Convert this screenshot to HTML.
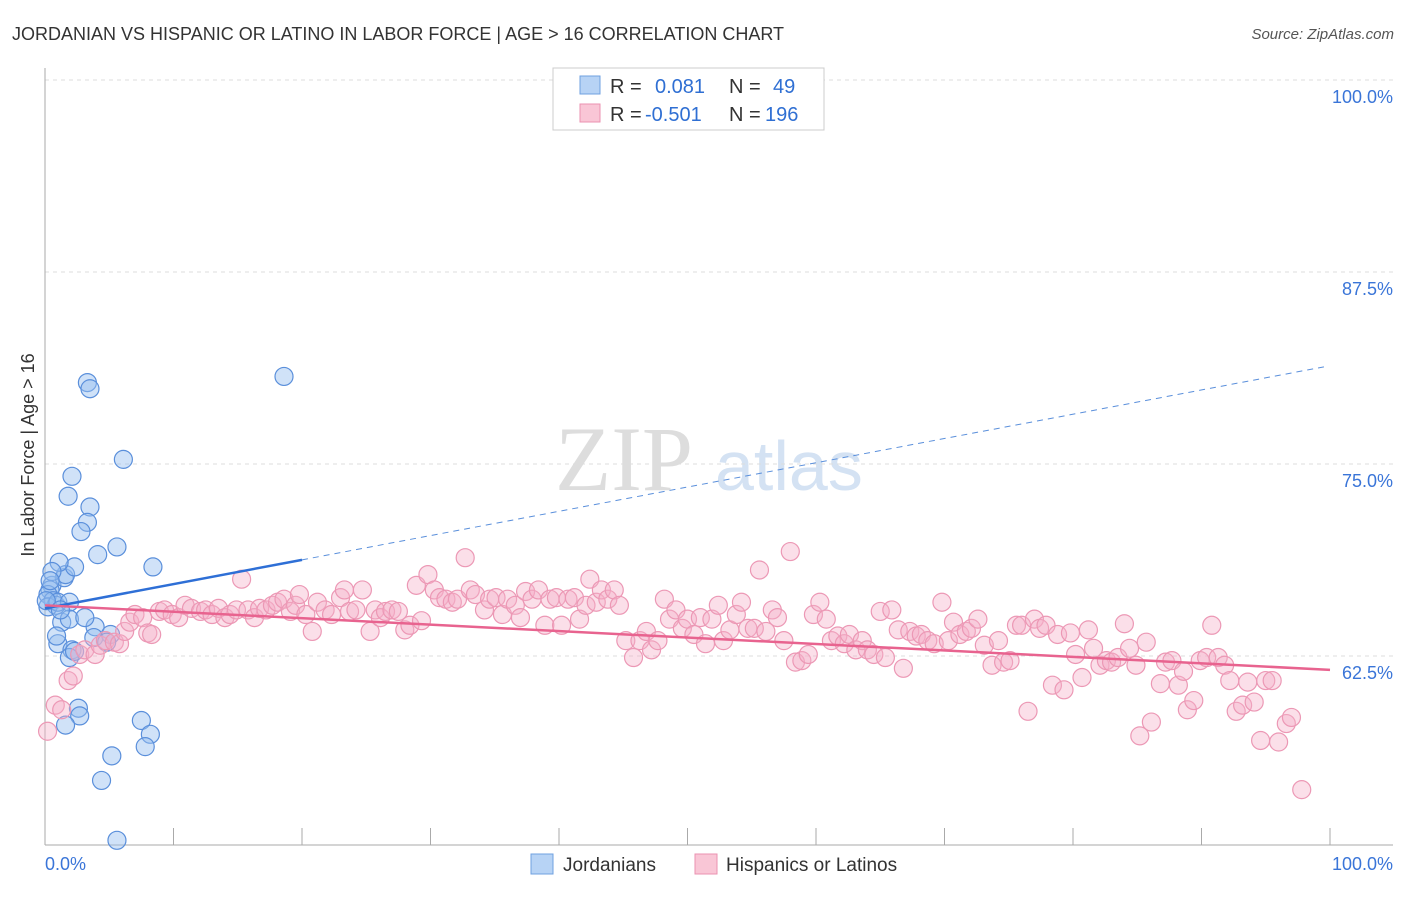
<!DOCTYPE html>
<html><head><meta charset="utf-8"><style>
body{margin:0;background:#fff;font-family:"Liberation Sans",sans-serif;}
</style></head><body>
<svg width="1406" height="892" xmlns="http://www.w3.org/2000/svg" font-family="Liberation Sans, sans-serif">
<text x="12" y="40" font-size="18" fill="#333">JORDANIAN VS HISPANIC OR LATINO IN LABOR FORCE | AGE &gt; 16 CORRELATION CHART</text>
<text x="1394" y="39" font-size="15" fill="#555" text-anchor="end" font-style="italic">Source: ZipAtlas.com</text>
<g>
<text x="555" y="490" font-size="92" fill="#ddd" font-family="Liberation Serif, serif">ZIP</text>
<text x="715" y="490" font-size="70" fill="#d4e2f3">atlas</text>
</g>
<g id="grid"></g>
<g id="axes"></g>
<g id="pts"></g>
<g id="trend"></g>
<g>
<rect x="553" y="68" width="271" height="62" fill="#fff" stroke="#ccc"/>
<rect x="580" y="76" width="20" height="18" fill="#b7d3f5" stroke="#6fa0e0"/>
<text x="610" y="93" font-size="20" fill="#333">R = </text><text x="655" y="93" font-size="20" fill="#2f6fd3">0.081</text>
<text x="729" y="93" font-size="20" fill="#333">N = </text><text x="773" y="93" font-size="20" fill="#2f6fd3">49</text>
<rect x="580" y="104" width="20" height="18" fill="#f9c6d6" stroke="#eb92b0"/>
<text x="610" y="121" font-size="20" fill="#333">R = </text><text x="645" y="121" font-size="20" fill="#2f6fd3">-0.501</text>
<text x="729" y="121" font-size="20" fill="#333">N = </text><text x="765" y="121" font-size="20" fill="#2f6fd3">196</text>
</g>
<g>
<rect x="531" y="854" width="22" height="20" fill="#b7d3f5" stroke="#6fa0e0"/>
<text x="563" y="871" font-size="19" fill="#333">Jordanians</text>
<rect x="695" y="854" width="22" height="20" fill="#f9c6d6" stroke="#eb92b0"/>
<text x="726" y="871" font-size="19" fill="#333">Hispanics or Latinos</text>
</g>
<text x="45" y="870" font-size="18" fill="#3a75d8">0.0%</text>
<text x="1393" y="870" font-size="18" fill="#3a75d8" text-anchor="end">100.0%</text>
<text transform="translate(34,455) rotate(-90)" font-size="18" fill="#333" text-anchor="middle">In Labor Force | Age &gt; 16</text>
</svg>
<script>
const blueX=[.54,.39,.23,.62,.86,.23,1.0,1.9,1.5,1.6,2.3,1.1,.54,3.3,3.5,18.6,6.1,2.1,1.8,3.5,3.3,2.8,4.1,5.6,8.4,1.3,1.9,1.0,.9,2.1,1.9,2.3,3.9,3.8,5.1,4.8,2.6,2.7,1.6,7.5,8.2,7.8,5.2,4.4,5.6,3.1,.4,.1,1.2];
const blueY=[67.1,66.8,66.5,66.1,65.8,65.7,66.0,66.0,67.6,67.8,68.3,68.6,68.0,80.3,79.9,80.7,75.3,74.2,72.9,72.2,71.2,70.6,69.1,69.6,68.3,64.7,64.9,63.3,63.8,62.9,62.4,62.8,64.4,63.7,63.9,63.4,59.1,58.6,58.0,58.3,57.4,56.6,56.0,54.4,50.5,65.0,67.4,66.1,65.5];
const pinkX=[.2,.8,1.3,1.8,2.2,2.7,3.1,3.9,4.3,4.7,5.4,5.8,6.2,6.6,7.0,7.6,8.0,8.3,8.9,9.3,9.9,10.4,10.9,11.4,12.1,12.5,13.0,13.5,14.0,14.4,14.9,15.3,15.8,16.3,16.7,17.2,17.7,18.1,18.6,19.1,19.5,19.8,20.3,20.8,21.2,21.8,22.3,23.0,23.3,23.7,24.2,24.7,25.3,25.7,26.1,26.5,27.0,27.5,28.0,28.4,28.9,29.3,29.8,30.3,30.7,31.2,31.7,32.1,32.7,33.1,33.5,34.2,34.6,35.1,35.6,36.0,36.6,37.0,37.4,37.9,38.4,38.9,39.3,39.8,40.2,40.7,41.2,41.6,42.1,42.4,42.9,43.3,43.8,44.3,44.7,45.2,45.8,46.3,46.8,47.2,47.7,48.2,48.6,49.1,49.6,50.0,50.5,51.0,51.4,51.9,52.4,52.8,53.3,53.8,54.2,54.7,55.2,55.6,56.1,56.6,57.0,57.5,58.0,58.4,58.9,59.4,59.8,60.3,60.8,61.2,61.7,62.2,62.6,63.1,63.6,64.0,64.5,65.0,65.4,65.9,66.4,66.8,67.3,67.8,68.2,68.7,69.2,69.8,70.3,70.7,71.2,71.7,72.1,72.6,73.1,73.7,74.2,74.6,75.1,75.6,76.0,76.5,77.0,77.4,77.9,78.4,78.8,79.3,79.8,80.2,80.7,81.2,81.6,82.1,82.6,83.0,83.5,84.0,84.4,84.9,85.2,85.7,86.1,86.8,87.2,87.7,88.2,88.6,88.9,89.4,89.9,90.4,90.8,91.3,91.8,92.2,92.7,93.2,93.6,94.1,94.6,95.0,95.5,96.0,96.6,97.0,97.8];
const pinkY=[57.6,59.3,59.0,60.9,61.2,62.6,62.9,62.6,63.2,63.5,63.4,63.3,64.1,64.7,65.2,65.0,64.0,63.9,65.4,65.5,65.2,65.0,65.8,65.6,65.4,65.5,65.2,65.6,65.0,65.2,65.5,67.5,65.5,65.0,65.6,65.5,65.8,66.0,66.2,65.4,65.8,66.5,65.2,64.1,66.0,65.5,65.2,66.3,66.8,65.4,65.5,66.8,64.1,65.5,65.0,65.4,65.5,65.4,64.2,64.5,67.1,64.8,67.8,66.8,66.3,66.2,66.0,66.2,68.9,66.8,66.5,65.5,66.2,66.3,65.2,66.2,65.8,65.0,66.7,66.2,66.8,64.5,66.2,66.3,64.5,66.2,66.3,64.9,65.8,67.5,66.0,66.8,66.2,66.8,65.8,63.5,62.4,63.5,64.1,62.9,63.5,66.2,64.9,65.5,64.3,64.9,63.9,65.0,63.3,64.9,65.8,63.5,64.2,65.2,66.0,64.3,64.3,68.1,64.1,65.5,65.0,63.5,69.3,62.1,62.2,62.6,65.2,66.0,64.9,63.5,63.8,63.3,63.9,62.9,63.5,62.9,62.6,65.4,62.4,65.5,64.2,61.7,64.1,63.8,63.9,63.5,63.3,66.0,63.5,64.7,63.9,64.1,64.3,64.9,63.2,61.9,63.5,62.1,62.2,64.5,64.5,58.9,64.9,64.3,64.5,60.6,63.9,60.3,64.0,62.6,61.1,64.2,63.0,61.9,62.2,62.1,62.4,64.6,63.0,61.9,57.3,63.4,58.2,60.7,62.1,62.2,60.6,61.5,59.0,59.6,62.2,62.4,64.5,62.4,61.9,60.9,58.9,59.3,60.8,59.5,57.0,60.9,60.9,56.9,58.1,58.5,53.8];
const yTicks=[100,87.5,75,62.5];
const yTickLabels=["100.0%","87.5%","75.0%","62.5%"];
const xTicks=[0,10,20,30,40,50,60,70,80,90,100];
const blueTrend=[65.6,0.158];
const pinkTrend=[65.8,-0.042];
const NS="http://www.w3.org/2000/svg";
const xs=v=>45+v*12.85, ys=v=>80+(100-v)*15.36;
function mk(t,a,p){const e=document.createElementNS(NS,t);for(const k in a)e.setAttribute(k,a[k]);document.getElementById(p).appendChild(e);return e;}
yTicks.forEach((t,i)=>{
 const l=mk('line',{x1:45,x2:1393,y1:ys(t),y2:ys(t),stroke:'#ddd','stroke-dasharray':'4,4'},'grid');
 
 
 const tx=mk('text',{x:1393,y:ys(t)+23,'font-size':18,fill:'#3a75d8','text-anchor':'end'},'grid');
 tx.textContent=yTickLabels[i];
 
 
});
const ax=mk('line',{x1:45,x2:45,y1:68,y2:845,stroke:'#aaa'},'axes');


const bx=mk('line',{x1:45,x2:1393,y1:845,y2:845,stroke:'#aaa'},'axes');


xTicks.forEach(t=>{
 const l=mk('line',{x1:xs(t),x2:xs(t),y1:828,y2:845,stroke:'#aaa'},'axes');
 
 
});
blueX.forEach((x,i)=>{
 const c=mk('circle',{cx:xs(x),cy:ys(blueY[i]),r:9,fill:'rgba(150,190,240,0.45)',stroke:'#5a8fdb','stroke-width':1.2},'pts');
 
 
});
pinkX.forEach((x,i)=>{
 const c=mk('circle',{cx:xs(x),cy:ys(pinkY[i]),r:9,fill:'rgba(246,175,200,0.4)',stroke:'#ec98b5','stroke-width':1.2},'pts');
 
 
});
const b1=mk('line',{x1:xs(0),y1:ys(blueTrend[0]),x2:xs(20),y2:ys(blueTrend[0]+blueTrend[1]*20),stroke:'#2e6fd6','stroke-width':2.5},'trend');


const b2=mk('line',{x1:xs(20),y1:ys(blueTrend[0]+blueTrend[1]*20),x2:xs(99.6),y2:ys(blueTrend[0]+blueTrend[1]*99.6),stroke:'#5a8fdb','stroke-width':1,'stroke-dasharray':'6,5'},'trend');


const p1=mk('line',{x1:xs(0),y1:ys(pinkTrend[0]),x2:xs(100),y2:ys(pinkTrend[0]+pinkTrend[1]*100),stroke:'#e8638f','stroke-width':2.5},'trend');


</script>
</body></html>
